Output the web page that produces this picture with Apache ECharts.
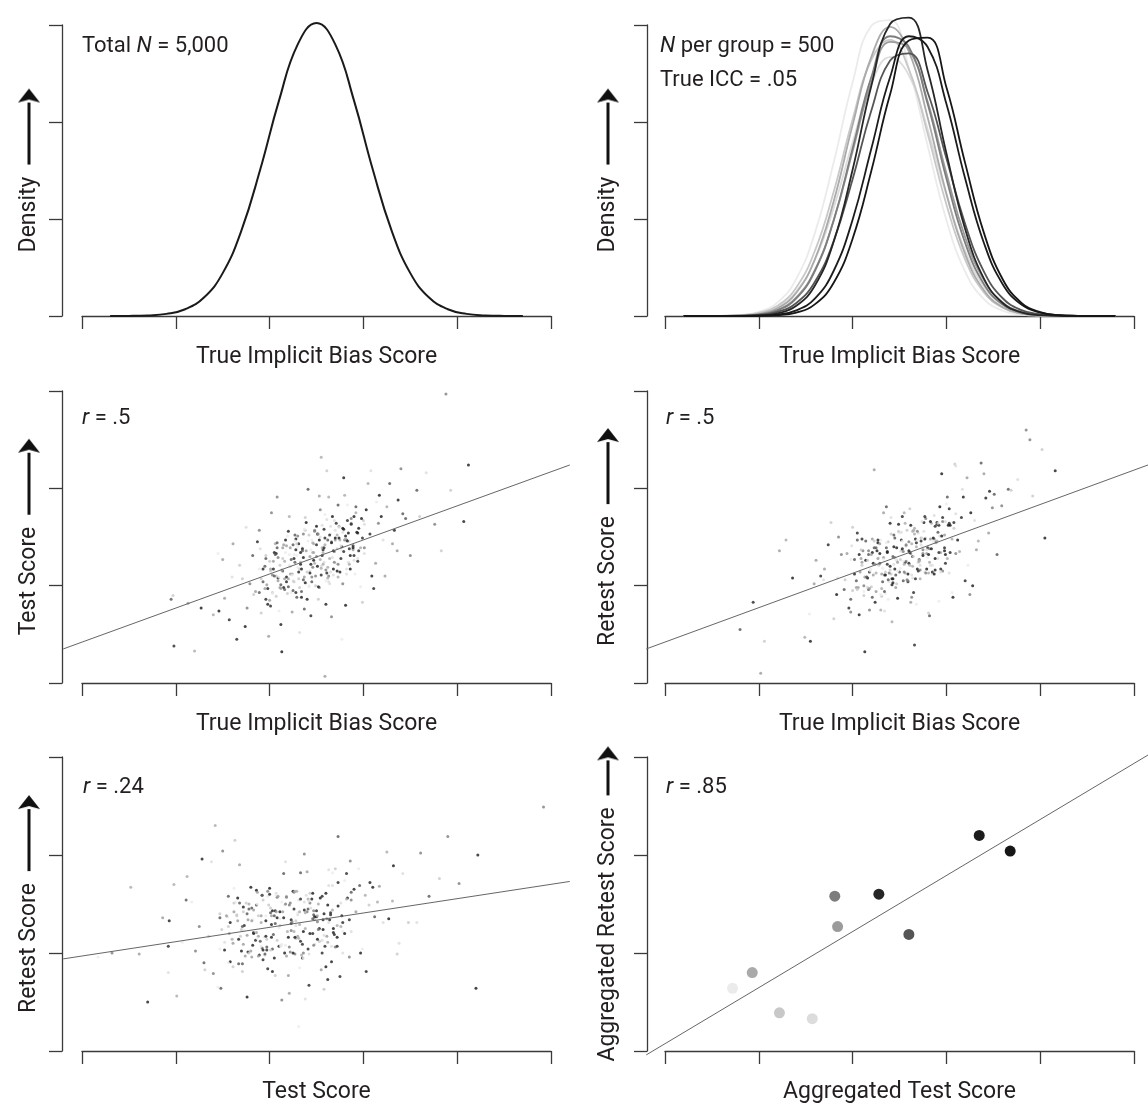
<!DOCTYPE html>
<html style="height: 100%">
<head>
    <meta charset="utf-8">
</head>
<body style="height: 100%; margin: 0; background: #fff">
<div id="container" style="width: 1148px; height: 1106px"></div>
<script type="text/javascript" src="https://cdn.jsdelivr.net/npm/echarts@6/dist/echarts.min.js"></script>
<script type="text/javascript">
    // shades of the 10 groups, lightest to darkest
    var groupColors = ['#ebebeb', '#dcdcdc', '#c8c8c8', '#aaaaaa', '#9b9b9b', '#7d7d7d', '#555555', '#262626', '#1c1c1c', '#161616'];

    // top left: density of all 5,000 true scores
    var poolX = [0.3, 0.5, 0.7, 0.9, 1.1, 1.3, 1.5, 1.7, 1.9, 2.1, 2.3, 2.5, 2.7, 2.9, 3.1, 3.3, 3.5, 3.7, 3.9, 4.1, 4.3, 4.5, 4.7];
    var poolDensity = [0, 0.001, 0.006, 0.022, 0.070, 0.190, 0.442, 0.882, 1.51, 2.22, 2.80, 3.02, 2.80, 2.22, 1.51, 0.882, 0.442, 0.190, 0.070, 0.022, 0.006, 0.001, 0];

    // top right: one density per group (index = group)
    var groupX = [0.2, 0.4, 0.6, 0.8, 1.0, 1.2, 1.4, 1.6, 1.8, 2.0, 2.2, 2.4, 2.6, 2.8, 3.0, 3.2, 3.4, 3.6, 3.8, 4.0, 4.2, 4.4, 4.6, 4.8];
    var groupDensity = [
        [0, 0, 0.002, 0.010, 0.042, 0.140, 0.383, 0.862, 1.590, 2.407, 2.992, 3.051, 2.554, 1.755, 0.990, 0.458, 0.174, 0.054, 0.014, 0.003, 0.001, 0, 0, 0],
        [0, 0, 0.001, 0.007, 0.028, 0.092, 0.253, 0.583, 1.118, 1.791, 2.393, 2.668, 2.481, 1.926, 1.247, 0.674, 0.304, 0.114, 0.036, 0.009, 0.002, 0, 0, 0],
        [0, 0, 0.002, 0.008, 0.032, 0.106, 0.295, 0.677, 1.287, 2.026, 2.640, 2.847, 2.542, 1.879, 1.149, 0.582, 0.244, 0.085, 0.024, 0.006, 0.001, 0, 0, 0],
        [0, 0, 0.001, 0.005, 0.022, 0.080, 0.240, 0.590, 1.189, 1.968, 2.672, 2.980, 2.726, 2.047, 1.262, 0.638, 0.265, 0.090, 0.025, 0.006, 0.001, 0, 0, 0],
        [0, 0, 0.001, 0.004, 0.017, 0.063, 0.191, 0.478, 0.990, 1.697, 2.408, 2.827, 2.748, 2.211, 1.473, 0.812, 0.370, 0.140, 0.044, 0.011, 0.002, 0, 0, 0],
        [0, 0, 0.001, 0.003, 0.015, 0.058, 0.182, 0.469, 0.993, 1.726, 2.463, 2.884, 2.773, 2.187, 1.417, 0.753, 0.328, 0.118, 0.035, 0.008, 0.002, 0, 0, 0],
        [0, 0, 0, 0.002, 0.011, 0.042, 0.134, 0.355, 0.778, 1.411, 2.118, 2.633, 2.708, 2.307, 1.626, 0.949, 0.458, 0.183, 0.061, 0.017, 0.004, 0.001, 0, 0],
        [0, 0, 0, 0.001, 0.006, 0.028, 0.105, 0.317, 0.770, 1.507, 2.373, 3.010, 3.076, 2.532, 1.679, 0.896, 0.386, 0.134, 0.037, 0.008, 0.002, 0, 0, 0],
        [0, 0, 0, 0.001, 0.003, 0.015, 0.058, 0.182, 0.469, 0.993, 1.726, 2.463, 2.884, 2.773, 2.187, 1.417, 0.753, 0.328, 0.118, 0.035, 0.008, 0.002, 0, 0],
        [0, 0, 0, 0, 0.002, 0.008, 0.035, 0.122, 0.345, 0.797, 1.497, 2.286, 2.840, 2.869, 2.358, 1.576, 0.857, 0.379, 0.136, 0.040, 0.009, 0.002, 0, 0]
    ];

    // points: [x, y, group]
    var trueVsTest = [
        [2.57,1.37,7],[2.14,1.39,4],[2.90,1.26,1],[2.40,0.86,8],[3.16,1.64,5],[1.83,0.91,2],[2.67,1.71,9],[2.27,1.24,6],[2.48,1.23,3],[2.83,1.83,0],
        [2.01,0.79,7],[3.36,1.36,4],[1.60,1.09,1],[2.60,0.81,8],[2.36,1.53,5],[3.00,1.67,2],[2.18,1.09,9],[3.57,1.98,6],[1.40,0.70,3],[2.76,1.37,0],
        [1.87,1.45,7],[2.53,1.92,4],[2.32,0.52,1],[3.09,1.10,8],[2.09,1.29,5],[2.72,1.38,2],[1.74,0.58,9],[3.28,2.05,6],[2.46,1.44,3],[2.23,0.93,0],
        [2.94,1.54,7],[1.50,1.27,4],[2.64,1.02,1],[2.04,1.17,8],[3.76,1.63,5],[2.38,1.70,2],[2.81,0.80,9],[1.93,1.04,6],[3.05,2.05,3],[2.29,1.31,0],
        [2.55,1.11,7],[1.13,0.82,4],[3.21,1.47,1],[2.12,0.60,8],[2.87,1.69,5],[1.68,1.21,2],[2.50,1.61,9],[3.42,1.74,6],[2.21,1.71,3],[2.71,1.23,0],
        [1.96,0.86,7],[3.13,1.23,4],[2.43,1.15,1],[2.79,2.11,8],[1.79,1.02,5],[3.93,1.98,2],[2.34,0.88,9],[2.62,1.47,6],[2.06,1.43,3],[2.97,0.99,0],
        [1.57,0.65,7],[2.74,1.61,4],[2.25,1.05,1],[3.33,1.57,8],[1.89,1.57,5],[2.52,0.86,2],[1.27,0.77,9],[2.92,1.81,6],[2.16,1.25,3],[2.59,1.73,0],
        [3.07,1.53,7],[1.99,0.48,4],[2.68,1.11,1],[2.31,1.43,8],[3.50,1.31,5],[1.71,1.07,2],[2.84,1.54,9],[2.41,1.99,6],[3.25,1.81,3],[2.10,0.74,0],
        [2.56,1.31,7],[1.85,0.94,4],[3.01,1.33,1],[2.20,1.56,8],[2.78,1.02,5],[0.97,0.90,2],[3.17,1.93,9],[2.45,1.04,6],[2.33,1.24,3],[2.65,1.53,0],
        [1.65,0.45,7],[2.89,1.37,4],[3.67,2.16,1],[2.07,1.33,8],[2.54,1.78,5],[1.91,0.72,2],[3.03,1.78,9],[2.37,0.76,6],[2.75,1.47,3],[2.26,1.32,0],
        [3.11,0.97,7],[1.52,0.87,4],[2.58,1.24,1],[2.15,0.98,8],[3.40,2.20,5],[2.42,1.52,2],[2.86,1.17,9],[1.82,1.31,6],[2.63,1.91,3],[1.45,1.33,0],
        [2.95,1.36,7],[2.24,0.73,4],[2.69,1.67,1],[4.07,1.66,8],[2.02,1.75,5],[2.49,1.00,2],[3.19,1.71,9],[1.95,1.20,6],[2.80,1.93,3],[2.30,1.19,0],
        [0.98,0.38,7],[3.31,1.43,4],[2.35,1.39,1],[2.98,1.69,8],[1.76,0.77,5],[2.61,2.18,2],[2.13,0.32,9],[3.45,1.69,6],[2.47,1.34,3],[2.19,1.51,0],
        [2.85,1.38,7],[1.61,1.43,4],[3.08,2.18,1],[1.98,0.97,8],[2.66,0.68,5],[3.83,1.36,2],[2.39,1.65,9],[2.73,1.83,6],[1.20,0.33,3],[2.91,1.12,0],
        [2.28,0.93,7],[3.23,1.10,4],[1.90,1.38,1],[2.51,1.53,8],[2.08,1.91,5],[3.60,1.71,2],[1.46,0.74,9],[2.82,1.47,6],[2.22,1.12,3],[3.14,1.86,0],
        [2.44,0.69,7],[2.70,1.47,4],[1.75,1.60,1],[3.37,1.88,8],[2.03,1.11,5],[2.99,0.83,2],[4.12,2.24,9],[0.95,0.86,6],[2.55,2.32,3],[2.77,0.45,0],
        [3.88,2.97,5],[2.59,0.07,4],
        [2.50,1.42,7],[2.24,1.12,4],[2.78,1.55,1],[2.05,1.34,8],[2.63,1.10,5],[2.38,1.57,2],[2.89,1.39,9],[2.16,0.96,6],[2.57,1.34,3],[2.30,1.40,0],
        [2.71,1.64,7],[1.97,1.01,4],[2.84,1.24,1],[2.43,1.13,8],[2.66,1.45,5],[2.11,1.21,2],[2.95,1.59,9],[2.34,0.94,6],[2.52,1.53,3],[2.21,1.32,0],
        [2.76,1.28,7],[2.00,0.85,4],[2.61,1.68,1],[2.36,1.29,8],[2.87,1.64,5],[2.26,1.04,2],[2.47,1.26,9],[2.08,1.44,6],[2.73,1.09,3],[2.41,1.46,0],
        [2.99,1.49,7],[2.18,1.41,4],[2.55,1.20,1],[1.93,1.17,8],[2.80,1.47,5],[2.32,1.17,2],[2.68,1.17,9],[2.14,1.15,6],[2.92,1.75,3],[2.39,1.03,0],
        [2.59,1.49,7],[2.04,1.25,4],[2.82,1.17,1],[2.28,1.48,8],[2.53,0.98,5],[2.22,1.20,2],[2.74,1.49,9],[1.89,0.93,6],[2.64,1.28,3],[2.44,1.37,0],
        [2.90,1.31,7],[2.12,0.97,4],[2.70,1.57,1],[2.33,1.34,8],[2.48,1.57,5],[2.01,1.15,2],[2.77,1.40,9],[2.25,0.95,6],[2.56,1.39,3],[2.17,1.34,0],
        [2.83,1.67,7],[2.37,1.09,4],[2.65,1.14,1],[2.09,1.08,8],[3.01,1.39,5],[2.29,1.43,2],[2.51,1.20,9],[1.96,1.28,6],[2.72,1.52,3],[2.42,1.00,0],
        [2.58,1.58,7],[2.20,1.07,4],[2.85,1.46,1],[2.35,1.38,8],[2.45,1.09,5],[2.07,1.10,2],[2.79,1.58,9],[2.23,1.27,6],[2.62,1.19,3],[2.40,1.26,0],
        [2.94,1.25,7],[2.15,1.42,4],[2.54,1.50,1],[2.31,1.14,8],[2.69,1.35,5],[2.03,0.93,2],[2.81,1.51,9],[2.27,1.52,6],[2.46,1.34,3],[2.60,1.05,0],
        [2.40,1.14,2],[2.66,1.44,9],[2.12,1.01,6],[2.85,1.22,3],[2.27,1.46,0],[2.52,0.99,7],[2.01,1.17,4],[2.74,1.60,1],[2.33,1.22,8],[2.60,1.16,5],
        [2.19,0.92,2],[2.93,1.55,9],[2.06,1.32,6],[2.47,1.43,3],[2.24,1.11,0],[2.79,1.35,7],[1.95,0.97,4],[2.56,1.62,1],[2.38,1.03,8],[2.69,1.24,5],
        [2.14,1.28,2],[2.90,1.71,9],[2.29,0.88,6],[2.54,1.27,3],[2.03,0.92,0],[2.64,1.52,7],[2.43,1.30,4],[2.82,1.12,1],[2.17,1.47,8],[2.49,1.10,5],
        [1.91,1.07,2],[2.72,1.15,9],[2.35,1.36,6],[2.97,1.39,3],[2.10,1.09,0],[2.58,1.39,7],[2.22,1.39,4],[2.76,1.41,1],[1.98,0.81,8],[2.51,1.53,5],
        [2.31,1.07,2],[2.86,1.31,9],[2.08,1.39,6],[2.62,1.08,3],[2.37,1.58,0],[2.68,1.36,7],[2.16,1.07,4],[3.01,1.63,1],[2.26,1.28,8],[2.46,1.19,5],
        [2.00,1.25,2],[2.78,1.59,9],[2.20,0.99,6],[2.57,1.22,3],[2.42,0.99,0],[2.89,1.41,7],[2.13,1.16,4],[2.65,1.61,1],[2.34,1.17,8],[2.73,1.22,5],
        [2.07,0.89,2],[2.53,1.47,9],[2.25,1.42,6],[2.81,1.48,3],[1.89,1.17,0],[2.61,1.13,7],[2.39,1.36,4],[2.94,1.28,1],[2.18,1.04,8],[2.48,1.56,5],
        [2.32,0.98,2],[2.70,1.49,9],[2.05,1.10,6],[2.55,1.18,3],[2.45,1.47,0],[2.83,1.46,7],[2.11,0.98,4],[2.67,1.29,1],[2.28,1.37,8],[2.50,1.30,5],
        [1.96,1.31,2],[2.75,1.14,9],[2.36,1.06,6],[2.59,1.42,3],[2.21,1.21,0],[2.87,1.63,7],[2.09,1.05,4],[2.63,1.04,1],[2.44,1.22,8],[2.30,1.51,5]
    ];
    var trueVsRetest = [
        [2.66,0.39,7],[2.23,2.19,4],[2.99,1.66,1],[2.49,1.63,8],[3.25,0.91,5],[1.92,1.06,2],[2.76,1.65,9],[2.36,1.81,6],[2.57,1.41,3],[2.92,0.84,0],
        [2.10,1.48,7],[3.45,1.54,4],[1.69,1.06,1],[2.69,1.17,8],[2.45,1.29,5],[3.09,2.25,2],[2.27,1.44,9],[3.66,1.99,6],[1.49,0.47,3],[2.85,1.12,0],
        [1.96,0.77,7],[2.62,0.83,4],[2.41,1.70,1],[3.18,1.91,8],[2.18,0.75,5],[2.81,0.72,2],[1.83,0.91,9],[3.37,2.26,6],[2.55,1.75,3],[2.32,1.18,0],
        [3.03,1.79,7],[1.59,1.02,4],[2.73,1.42,1],[2.13,0.32,8],[3.85,2.60,5],[2.47,1.02,2],[2.90,1.65,9],[2.02,1.27,6],[3.14,1.35,3],[2.38,0.86,0],
        [2.64,1.30,7],[1.22,1.36,4],[3.30,1.67,1],[2.21,1.34,8],[2.96,1.15,5],[1.77,1.65,2],[2.59,1.12,9],[3.51,1.94,6],[2.30,0.75,3],[2.80,1.29,0],
        [2.05,1.54,7],[3.22,2.11,4],[2.52,1.55,1],[2.88,1.16,8],[1.88,1.32,5],[4.02,2.40,2],[2.43,1.07,9],[2.71,1.27,6],[2.15,1.09,3],[3.06,0.93,0],
        [1.66,1.10,7],[2.83,1.48,4],[2.34,0.74,1],[3.42,1.90,8],[1.98,0.73,5],[2.61,1.79,2],[1.36,1.08,9],[3.01,1.91,6],[2.25,1.13,3],[2.68,0.81,0],
        [3.16,1.70,7],[2.08,1.14,4],[2.77,1.14,1],[2.40,1.64,8],[3.59,1.82,5],[1.80,0.66,2],[2.93,1.81,9],[2.50,1.14,6],[3.34,1.46,3],[2.19,1.17,0],
        [2.65,0.93,7],[1.94,1.33,4],[3.10,2.23,1],[2.29,1.33,8],[2.87,1.48,5],[1.06,0.43,2],[3.26,1.75,9],[2.54,1.05,6],[2.42,0.63,3],[2.74,1.40,0],
        [1.74,1.42,7],[2.98,1.52,4],[3.76,2.09,1],[2.16,1.08,8],[2.63,0.88,5],[2.00,1.60,2],[3.12,1.47,9],[2.46,1.11,6],[2.84,1.64,3],[2.35,0.92,0],
        [3.20,1.05,7],[1.61,1.26,4],[2.67,1.48,1],[2.24,0.83,8],[3.49,1.80,5],[2.51,1.27,2],[2.95,2.15,9],[1.91,0.96,6],[2.72,1.07,3],[1.54,0.71,0],
        [3.04,1.34,7],[2.33,1.75,4],[2.78,1.49,1],[4.16,2.18,8],[2.11,1.36,5],[2.58,1.57,2],[3.28,1.00,9],[2.04,1.05,6],[2.89,1.44,3],[2.39,1.04,0],
        [0.94,0.83,7],[3.40,2.15,4],[2.44,1.22,1],[3.07,0.88,8],[1.85,1.50,5],[2.70,1.24,2],[2.22,1.23,9],[3.54,1.32,6],[2.56,1.64,3],[2.28,1.29,0],
        [2.94,1.17,7],[1.70,1.17,4],[3.17,1.99,1],[2.07,0.70,8],[2.75,1.37,5],[3.92,1.92,2],[2.48,0.87,9],[2.82,0.69,6],[1.29,1.47,3],[3.00,1.84,0],
        [2.37,1.22,7],[3.32,1.37,4],[1.99,1.41,1],[2.60,1.23,8],[2.17,1.36,5],[3.69,1.98,2],[1.55,0.43,9],[2.91,1.55,6],[2.31,0.97,3],[3.23,1.21,0],
        [2.53,1.71,7],[2.79,1.33,4],[1.84,1.08,1],[3.46,1.97,8],[2.12,1.00,5],[3.08,1.59,2],[4.05,1.49,9],[0.80,0.55,6],[2.64,1.56,3],[2.86,1.46,0],
        [1.02,0.10,4],[3.89,2.50,5],
        [2.59,1.04,7],[2.33,1.29,4],[2.87,1.72,1],[2.14,1.26,8],[2.72,1.16,5],[2.47,1.26,2],[2.98,1.36,9],[2.25,1.39,6],[2.66,1.59,3],[2.39,1.04,0],
        [2.80,1.39,7],[2.06,0.98,4],[2.93,1.51,1],[2.52,1.47,8],[2.75,1.33,5],[2.20,0.99,2],[3.04,1.62,9],[2.43,1.30,6],[2.61,1.21,3],[2.30,1.47,0],
        [2.85,1.14,7],[2.09,1.28,4],[2.70,1.54,1],[2.45,1.17,8],[2.96,1.66,5],[2.35,1.14,2],[2.56,1.24,9],[2.17,0.96,6],[2.82,1.24,3],[2.50,1.54,0],
        [3.08,1.65,7],[2.27,1.28,4],[2.64,1.08,1],[2.02,1.12,8],[2.89,1.45,5],[2.41,1.53,2],[2.77,1.48,9],[2.23,1.39,6],[3.01,1.28,3],[2.48,1.15,0],
        [2.68,1.44,7],[2.13,1.09,4],[2.91,1.28,1],[2.37,1.35,8],[2.62,1.33,5],[2.31,0.89,2],[2.83,1.66,9],[1.98,0.86,6],[2.73,1.49,3],[2.53,1.46,0],
        [2.99,1.23,7],[2.21,1.48,4],[2.79,1.37,1],[2.42,1.07,8],[2.57,1.25,5],[2.10,1.21,2],[2.86,1.49,9],[2.34,1.11,6],[2.65,1.57,3],[2.26,1.22,0],
        [2.92,1.62,7],[2.46,0.98,4],[2.74,1.66,1],[2.18,1.14,8],[3.10,1.33,5],[2.38,1.45,2],[2.60,1.36,9],[2.05,1.47,6],[2.81,1.13,3],[2.51,1.18,0],
        [2.67,1.48,7],[2.29,1.43,4],[2.94,1.14,1],[2.44,1.40,8],[2.54,1.35,5],[2.16,1.26,2],[2.88,1.28,9],[2.32,1.04,6],[2.71,1.26,3],[2.49,1.55,0],
        [3.03,1.64,7],[2.24,1.22,4],[2.63,1.11,1],[2.40,1.20,8],[2.78,1.69,5],[2.12,0.90,2],[2.90,1.63,9],[2.36,1.39,6],[2.55,1.22,3],[2.69,1.47,0],
        [2.49,1.56,2],[2.75,1.31,9],[2.21,0.88,6],[2.94,1.34,3],[2.36,1.44,0],[2.61,1.34,7],[2.10,1.24,4],[2.83,1.21,1],[2.42,1.01,8],[2.69,1.56,5],
        [2.28,1.21,2],[3.02,1.62,9],[2.15,1.09,6],[2.56,1.13,3],[2.33,1.27,0],[2.88,1.61,7],[2.04,0.98,4],[2.65,1.30,1],[2.47,1.39,8],[2.78,1.13,5],
        [2.23,1.46,2],[2.99,1.32,9],[2.38,1.06,6],[2.63,1.43,3],[2.12,0.94,0],[2.73,1.46,7],[2.52,1.36,4],[2.91,1.64,1],[2.26,1.36,8],[2.58,1.06,5],
        [2.00,0.95,2],[2.81,1.32,9],[2.44,1.52,6],[3.06,1.48,3],[2.19,1.15,0],[2.67,1.07,7],[2.31,1.12,4],[2.85,1.21,1],[2.07,1.32,8],[2.60,1.45,5],
        [2.40,1.16,2],[2.95,1.51,9],[2.17,1.32,6],[2.71,1.25,3],[2.46,1.27,0],[2.77,1.71,7],[2.25,0.94,4],[3.10,1.74,1],[2.35,1.11,8],[2.55,1.14,5],
        [2.09,1.37,2],[2.87,1.12,9],[2.29,1.23,6],[2.66,1.53,3],[2.51,1.35,0],[2.98,1.39,7],[2.22,1.11,4],[2.74,1.49,1],[2.43,1.03,8],[2.82,1.38,5],
        [2.16,0.98,2],[2.62,1.62,9],[2.34,0.94,6],[2.90,1.46,3],[1.98,1.27,0],[2.70,1.15,7],[2.48,1.24,4],[3.03,1.13,1],[2.27,1.47,8],[2.57,1.42,5],
        [2.41,1.12,2],[2.79,1.17,9],[2.14,1.46,6],[2.64,1.20,3],[2.54,1.25,0],[2.92,1.34,7],[2.20,1.32,4],[2.76,1.56,1],[2.37,1.34,8],[2.59,1.05,5],
        [2.05,0.96,2],[2.84,1.38,9],[2.45,1.49,6],[2.68,1.40,3],[2.30,0.91,0],[2.96,1.70,7],[2.18,0.97,4],[2.72,1.21,1],[2.53,1.38,8],[2.39,1.13,5]
    ];
    var testVsRetest = [
        [2.57,1.34,7],[2.30,1.17,4],[0.92,0.80,1],[4.22,2.00,8],[2.85,0.96,5],[1.65,1.38,2],[3.32,1.89,9],[1.30,0.90,6],[2.48,1.34,3],[2.16,1.49,0],
        [3.03,0.81,7],[1.88,1.17,4],[2.63,1.85,1],[0.93,1.33,8],[3.61,2.02,5],[1.71,0.81,2],[2.25,1.63,9],[1.48,0.64,6],[3.15,1.52,3],[1.96,1.38,0],
        [2.75,0.76,7],[0.61,0.99,4],[2.52,1.24,1],[2.10,1.07,8],[3.90,2.19,5],[2.43,1.61,2],[1.58,0.91,9],[2.96,1.69,6],[1.12,1.78,3],[2.67,1.82,0],
        [1.85,1.13,7],[2.20,0.77,4],[3.42,1.81,1],[1.77,1.01,8],[2.37,2.01,5],[1.31,0.83,2],[2.83,1.56,9],[2.05,1.38,6],[3.25,2.03,3],[0.17,0.96,0],
        [1.98,0.84,7],[2.61,1.17,4],[1.55,1.37,1],[3.10,1.67,8],[2.22,1.01,5],[1.63,2.15,2],[4.20,0.64,9],[2.47,1.39,6],[1.91,1.31,3],[2.80,1.74,0],
        [0.92,1.07,7],[2.40,1.83,4],[1.38,1.93,1],[2.68,1.21,8],[2.13,0.52,5],[3.36,0.99,2],[1.80,1.67,9],[2.33,1.82,6],[1.01,0.56,3],[2.99,1.04,0],
        [1.93,0.93,7],[2.55,0.83,4],[2.07,1.61,1],[2.90,1.65,8],[1.50,2.04,5],[2.28,1.33,2],[1.70,1.02,9],[3.70,1.58,6],[2.72,1.28,3],[1.17,1.52,0],
        [2.42,0.67,7],[2.02,1.38,4],[2.17,1.93,1],[3.07,1.72,8],[0.32,1.00,5],[2.58,0.63,2],[1.86,1.64,9],[2.87,1.62,6],[1.42,2.30,3],[2.31,0.25,0],
        [1.73,1.28,7],[3.17,1.68,4],[2.12,1.08,1],[2.66,0.91,8],[1.25,1.27,5],[3.48,1.31,2],[2.00,1.66,9],[2.46,1.35,6],[1.60,1.14,3],[2.95,1.86,0],
        [2.35,0.95,7],[1.81,0.96,4],[2.76,1.51,1],[0.70,0.50,8],[2.26,1.62,5],[1.47,1.40,2],[3.27,1.35,9],[1.92,1.59,6],[2.53,1.12,3],[1.07,1.11,0],
        [2.82,1.81,7],[1.68,1.90,4],[2.38,0.53,1],[2.03,0.81,8],[4.02,1.71,5],[1.35,1.17,2],[2.60,0.86,9],[2.15,1.81,6],[3.02,1.59,3],[1.56,0.90,0],
        [2.50,1.43,7],[1.87,1.62,4],[3.38,1.10,1],[2.23,1.34,8],[1.21,1.02,5],[2.70,1.86,2],[1.76,0.55,9],[3.12,1.37,6],[0.52,1.67,3],[2.30,1.41,0],
        [1.97,1.03,7],[2.92,1.42,4],[1.52,1.11,1],[2.62,0.73,8],[2.08,1.57,5],[3.81,1.76,2],[1.66,1.56,9],[2.41,1.45,6],[0.98,1.70,3],[2.78,1.22,0],
        [1.89,0.98,7],[2.18,0.97,4],[3.21,1.31,1],[1.28,1.96,8],[2.51,1.32,5],[1.72,1.42,2],[2.97,1.00,9],[2.01,1.41,6],[2.27,1.63,3],[1.45,0.65,0],
        [2.56,1.00,7],[0.86,1.36,4],[3.57,1.31,1],[1.83,1.21,8],[2.86,1.94,5],[2.06,0.77,2],[2.36,1.22,9],[1.11,1.54,6],[3.31,1.53,3],[1.62,1.66,0],
        [2.65,1.39,7],[2.21,0.59,4],[1.95,0.98,1],[2.45,1.55,8],[1.40,0.79,5],[3.06,1.49,2],[2.11,1.42,9],[2.73,2.19,6],[1.78,1.50,3],[2.32,0.85,0],
        [4.92,2.49,5],
        [2.23,1.30,7],[1.91,1.38,4],[2.58,1.18,1],[1.67,1.14,8],[2.40,1.42,5],[2.08,1.13,2],[2.72,1.16,9],[1.81,1.46,6],[2.32,1.42,3],[1.98,1.58,0],
        [2.50,1.37,7],[1.57,1.20,4],[2.66,1.07,1],[2.15,1.36,8],[2.43,1.51,5],[1.75,1.51,2],[2.80,1.20,9],[2.03,1.04,6],[2.26,1.22,3],[1.87,1.15,0],
        [2.56,1.58,7],[1.61,1.10,4],[2.37,1.52,1],[2.06,1.43,8],[2.70,1.06,5],[1.93,1.54,2],[2.20,1.16,9],[1.71,1.27,6],[2.52,1.50,3],[2.12,1.07,0],
        [2.85,1.34,7],[1.83,1.44,4],[2.30,1.39,1],[1.52,1.03,8],[2.61,1.35,5],[2.01,1.03,2],[2.46,1.61,9],[1.78,1.45,6],[2.76,1.27,3],[2.10,1.26,0],
        [2.35,1.09,7],[1.66,1.33,4],[2.63,1.69,1],[1.96,1.33,8],[2.27,0.99,5],[1.88,1.38,2],[2.53,1.25,9],[1.47,1.36,6],[2.41,1.55,3],[2.16,1.01,0],
        [2.73,1.72,7],[1.76,1.18,4],[2.48,1.09,1],[2.02,1.29,8],[2.21,1.49,5],[1.62,1.51,2],[2.57,1.24,9],[1.92,1.05,6],[2.31,1.15,3],[1.82,1.34,0],
        [2.65,1.41,7],[2.07,1.42,4],[2.42,0.99,1],[1.72,1.47,8],[2.87,1.54,5],[1.97,1.14,2],[2.25,1.00,9],[1.56,1.58,6],[2.51,1.38,3],[2.13,1.52,0],
        [2.33,1.12,7],[1.86,1.21,4],[2.67,1.69,1],[2.05,0.95,8],[2.17,1.50,5],[1.70,1.24,2],[2.60,1.61,9],[1.90,1.12,6],[2.38,1.41,3],[2.11,1.35,0],
        [2.78,1.31,7],[1.80,1.02,4],[2.28,1.28,1],[2.00,1.60,8],[2.47,1.08,5],[1.65,1.39,2],[2.62,1.49,9],[1.95,0.99,6],[2.18,1.58,3],[2.36,0.95,0],
        [2.11,1.28,2],[2.43,1.20,9],[1.76,1.40,6],[2.67,1.44,3],[1.94,1.16,0],[2.26,1.45,7],[1.62,1.42,4],[2.53,1.12,1],[2.02,1.16,8],[2.36,1.00,5],
        [1.84,1.21,2],[2.77,1.38,9],[1.68,1.51,6],[2.19,1.22,3],[1.91,1.07,0],[2.59,1.07,7],[1.54,1.38,4],[2.31,1.54,1],[2.08,1.36,8],[2.47,1.43,5],
        [1.78,1.00,2],[2.73,1.48,9],[1.97,1.06,6],[2.28,1.15,3],[1.64,1.52,0],[2.41,1.04,7],[2.14,1.42,4],[2.63,1.31,1],[1.82,1.08,8],[2.22,1.51,5],
        [1.49,1.24,2],[2.51,1.14,9],[2.04,1.19,6],[2.82,1.55,3],[1.73,1.23,0],[2.33,1.55,7],[1.88,0.97,4],[2.56,1.13,1],[1.58,1.31,8],[2.24,1.32,5],
        [1.99,1.49,2],[2.68,1.25,9],[1.71,0.89,6],[2.38,1.25,3],[2.07,1.59,0],[2.46,1.20,7],[1.81,1.33,4],[2.87,1.22,1],[1.93,1.03,8],[2.18,1.57,5],
        [1.61,0.86,2],[2.58,1.40,9],[1.86,1.49,6],[2.32,1.29,3],[2.13,1.09,0],[2.72,1.07,7],[1.77,1.34,4],[2.42,1.53,1],[2.03,1.43,8],[2.52,1.24,5],
        [1.69,1.17,2],[2.27,1.16,9],[1.92,1.59,6],[2.62,1.11,3],[1.47,1.04,0],[2.37,1.44,7],[2.09,1.58,4],[2.78,1.00,1],[1.83,1.20,8],[2.21,1.06,5],
        [2.01,1.46,2],[2.48,1.37,9],[1.67,0.89,6],[2.29,1.63,3],[2.17,1.08,0],[2.64,1.34,7],[1.74,0.97,4],[2.44,1.46,1],[1.96,1.17,8],[2.23,1.23,5],
        [1.56,1.27,2],[2.54,1.56,9],[2.06,1.30,6],[2.34,0.98,3],[1.87,1.50,0],[2.69,1.19,7],[1.72,1.09,4],[2.39,1.59,1],[2.16,1.00,8],[1.98,1.63,5]
    ];

    // group means (index = group)
    var aggTest = [0.72, 1.57, 1.22, 0.93, 1.84, 1.81, 2.60, 2.28, 3.35, 3.68];
    var aggRetest = [0.64, 0.33, 0.39, 0.80, 1.27, 1.58, 1.19, 1.60, 2.20, 2.04];

    // fitted lines, both ends
    var fitTrueTest = [[-0.2, 0.35], [5.2, 2.24]];
    var fitTrueRetest = [[-0.2, 0.35], [5.2, 2.24]];
    var fitTestRetest = [[-0.2, 0.94], [5.2, 1.73]];
    var fitAggregated = [[-0.2, -0.04], [5.2, 3.02]];

    var FONT = "'Liberation Sans Narrow', 'Arial Narrow', Roboto, sans-serif";
    var INK = '#231f20';
    var AXIS = '#3a3a3a';

    function arrowHead() {
        var c = document.createElement('canvas');
        c.width = 14; c.height = 24;
        var ctx = c.getContext('2d');
        ctx.fillStyle = '#111';
        ctx.beginPath();
        ctx.moveTo(14, 12); ctx.lineTo(0, 1); ctx.lineTo(3, 12); ctx.lineTo(0, 23);
        ctx.closePath();
        ctx.fill();
        return c;
    }
    var head = arrowHead();
    var arrowRich = {
        t: {fontSize: 23, fontFamily: FONT, color: INK, verticalAlign: 'middle'},
        g: {width: 12, height: 2, verticalAlign: 'middle'},
        s: {width: 62, height: 3, backgroundColor: '#111', verticalAlign: 'middle'},
        s2: {width: 35, height: 3, backgroundColor: '#111', verticalAlign: 'middle'},
        h: {width: 14, height: 24, backgroundColor: {image: head}, verticalAlign: 'middle'}
    };

    var grids = [
        {left: 82, top: 25, width: 469, height: 291},
        {left: 665, top: 25, width: 469, height: 291},
        {left: 82, top: 391, width: 469, height: 292},
        {left: 665, top: 391, width: 469, height: 292},
        {left: 82, top: 757, width: 469, height: 294},
        {left: 665, top: 757, width: 469, height: 294}
    ];
    var xNames = ['True Implicit Bias Score', 'True Implicit Bias Score', 'True Implicit Bias Score',
        'True Implicit Bias Score', 'Test Score', 'Aggregated Test Score'];
    var yNames = ['{t|Density}{g|}{s|}{h|}', '{t|Density}{g|}{s|}{h|}', '{t|Test Score}{g|}{s|}{h|}',
        '{t|Retest Score}{g|}{s|}{h|}', '{t|Retest Score}{g|}{s|}{h|}', '{t|Aggregated Retest Score}{g|}{s2|}{h|}'];

    var lineStyle = {color: AXIS, width: 1.3};
    var xAxes = [], yAxes = [];
    for (var i = 0; i < 6; i++) {
        var right = i % 2 === 1;
        xAxes.push({
            gridIndex: i, type: 'value', min: 0, max: 5, interval: 1,
            axisLine: {show: true, onZero: false, lineStyle: lineStyle},
            axisTick: {show: true, inside: false, length: 13, lineStyle: lineStyle},
            axisLabel: {show: false}, splitLine: {show: false},
            name: xNames[i], nameLocation: 'middle', nameGap: 30,
            nameTextStyle: {fontSize: 23, fontFamily: FONT, color: INK}
        });
        yAxes.push({
            gridIndex: i, type: 'value', min: 0, max: 3, interval: 1, offset: right ? 18 : 20,
            axisLine: {show: true, onZero: false, lineStyle: lineStyle},
            axisTick: {show: true, inside: false, length: 13, lineStyle: lineStyle},
            axisLabel: {show: false}, splitLine: {show: false},
            name: yNames[i], nameLocation: 'middle', nameRotate: 90, nameGap: right ? 27 : 21,
            nameTextStyle: {rich: arrowRich}
        });
    }
    // plot regions (4% beyond the axes, as in R) for the fitted lines
    for (var k = 2; k < 6; k++) {
        var gr = grids[k];
        grids.push({left: gr.left - gr.width * 0.04, top: gr.top - gr.height * 0.04,
            width: gr.width * 1.08, height: gr.height * 1.08});
        xAxes.push({gridIndex: k + 4, type: 'value', min: -0.2, max: 5.2, show: false});
        yAxes.push({gridIndex: k + 4, type: 'value', min: -0.12, max: 3.12, show: false});
    }

    function pairs(xs, ys) {
        return xs.map(function (x, n) { return [x, ys[n]]; });
    }
    function groupColor(p) {
        return groupColors[p.data[2]];
    }

    var series = [{
        type: 'line', xAxisIndex: 0, yAxisIndex: 0, data: pairs(poolX, poolDensity),
        smooth: 0.45, symbol: 'none', clip: false,
        lineStyle: {color: '#1a1a1a', width: 2}
    }];
    groupDensity.forEach(function (ys, g) {
        series.push({
            type: 'line', xAxisIndex: 1, yAxisIndex: 1, data: pairs(groupX, ys),
            smooth: 0.45, symbol: 'none', clip: false,
            lineStyle: {color: groupColors[g], width: 1.8}
        });
    });
    [trueVsTest, trueVsRetest, testVsRetest].forEach(function (pts, n) {
        series.push({
            type: 'scatter', xAxisIndex: n + 2, yAxisIndex: n + 2, data: pts,
            symbolSize: 3, clip: false, itemStyle: {color: groupColor, opacity: 0.8}
        });
    });
    series.push({
        type: 'scatter', xAxisIndex: 5, yAxisIndex: 5, symbolSize: 11, clip: false,
        data: aggTest.map(function (x, g) { return [x, aggRetest[g], g]; }),
        itemStyle: {color: groupColor, opacity: 1}
    });
    [fitTrueTest, fitTrueRetest, fitTestRetest, fitAggregated].forEach(function (fit, n) {
        series.push({
            type: 'line', xAxisIndex: n + 6, yAxisIndex: n + 6, data: fit, z: 5,
            symbol: 'none', lineStyle: {color: '#666', width: 1}
        });
    });

    var note = {fontSize: 22, fontFamily: FONT, color: INK, fontWeight: 'normal'};
    var noteItalic = {fontSize: 22, fontFamily: FONT, color: INK, fontWeight: 'normal', fontStyle: 'italic'};
    function label(x, y, text) {
        return {left: x, top: y, padding: 0, text: text,
            textStyle: {fontSize: 22, fontFamily: FONT, color: INK, fontWeight: 'normal', rich: {n: note, i: noteItalic}}};
    }

    var dom = document.getElementById('container');
    var myChart = echarts.init(dom, null, {renderer: 'canvas'});
    var option = {
        backgroundColor: '#fff',
        animation: false,
        title: [
            label(82, 35, '{n|Total }{i|N}{n| = 5,000}'),
            label(660, 35, '{i|N}{n| per group = 500}'),
            label(660, 69, '{n|True ICC = .05}'),
            label(82, 407, '{i|r}{n| = .5}'),
            label(666, 407, '{i|r}{n| = .5}'),
            label(83, 776, '{i|r}{n| = .24}'),
            label(666, 776, '{i|r}{n| = .85}')
        ],
        grid: grids,
        xAxis: xAxes,
        yAxis: yAxes,
        series: series
    };
    myChart.setOption(option, true);
</script>
</body>
</html>
